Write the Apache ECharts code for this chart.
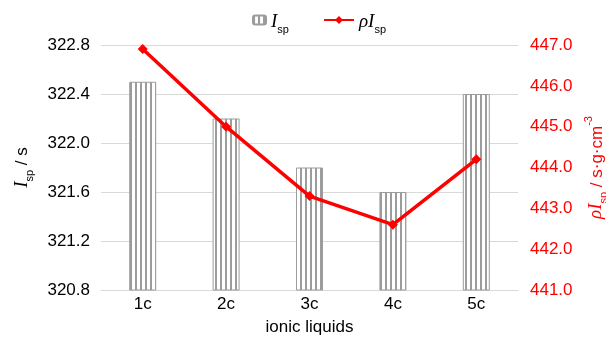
<!DOCTYPE html>
<html>
<head>
<meta charset="utf-8">
<script src="https://cdn.jsdelivr.net/npm/echarts@6/dist/echarts.min.js"></script>
<style>html,body{margin:0;padding:0;background:#fff}#c{width:606px;height:340px}</style>
</head>
<body>
<div id="c"></div>
<script>
const categories = ['1c','2c','3c','4c','5c'];
const ispValues = [322.5, 322.2, 321.8, 321.6, 322.4];
const rhoIspValues = [446.9, 445.0, 443.3, 442.6, 444.2];
const leftTicks = {min: 320.8, max: 322.8, interval: 0.4};
const rightTicks = {min: 441, max: 447, interval: 1};

const pc = document.createElement('canvas');
pc.width = 5; pc.height = 4;
const pctx = pc.getContext('2d');
pctx.fillStyle = '#ffffff'; pctx.fillRect(0,0,5,4);
pctx.fillStyle = '#9c9c9c'; pctx.fillRect(0,0,2,4);

const font = 'Liberation Sans, Arial, sans-serif';
const serif = 'Liberation Serif, Times New Roman, serif';
const subRich = (color) => ({
  i: {fontFamily: serif, fontStyle: 'italic', fontSize: 19, color: color, verticalAlign: 'bottom', lineHeight: 22},
  s: {fontFamily: font, fontSize: 11, color: color, verticalAlign: 'bottom', lineHeight: 22, padding: [0,0,-4,0]},
  r: {fontFamily: font, fontSize: 17, color: color, verticalAlign: 'bottom', lineHeight: 22},
  sup: {fontFamily: font, fontSize: 11, color: color, verticalAlign: 'top', lineHeight: 22, padding: [0,0,0,0]}
});

const chart = echarts.init(document.getElementById('c'), null, {renderer: 'canvas'});
chart.setOption({
  animation: false,
  backgroundColor: '#fff',
  grid: {left: 101, right: 88, top: 45, bottom: 50, containLabel: false, outerBoundsMode: 'none'},
  legend: [{
    data: ['Isp'], top: 7, left: 247, itemWidth: 13, itemHeight: 9, itemGap: 10,
    formatter: () => '{i|I}{s|sp}',
    textStyle: {rich: subRich('#000')}
  }, {
    data: ['rhoIsp'], top: 7, left: 318, itemWidth: 30, itemHeight: 10,
    formatter: () => '{i|ρI}{s|sp}',
    textStyle: {rich: subRich('#000')}
  }],
  xAxis: {
    type: 'category', data: categories,
    name: 'ionic liquids', nameLocation: 'middle', nameGap: 29,
    nameTextStyle: {fontFamily: font, fontSize: 17, color: '#000'},
    axisLine: {lineStyle: {color: '#d9d9d9', width: 1}},
    axisTick: {show: false},
    axisLabel: {fontFamily: font, fontSize: 17, color: '#000', margin: 6}
  },
  yAxis: [{
    type: 'value', min: leftTicks.min, max: leftTicks.max, interval: leftTicks.interval,
    name: '{i|I}{s|sp}{r| / s}', nameLocation: 'middle', nameGap: 70, nameRotate: 90,
    nameTextStyle: {rich: subRich('#000')},
    axisLine: {show: false}, axisTick: {show: false},
    axisLabel: {fontFamily: font, fontSize: 17, color: '#000', margin: 11, formatter: v => v.toFixed(1)},
    splitLine: {lineStyle: {color: '#d9d9d9', width: 1}}
  }, {
    type: 'value', min: rightTicks.min, max: rightTicks.max, interval: rightTicks.interval,
    position: 'right',
    name: '{i|ρI}{s|sp}{r| / s·g·cm}{sup|-3}', nameLocation: 'middle', nameGap: 60, nameRotate: 90,
    nameTextStyle: {rich: subRich('#ff0000')},
    axisLine: {show: false}, axisTick: {show: false},
    axisLabel: {fontFamily: font, fontSize: 17, color: '#ff0000', margin: 12, formatter: v => v.toFixed(1)},
    splitLine: {show: false}
  }],
  series: [{
    name: 'Isp', type: 'bar', data: ispValues, barWidth: 27, yAxisIndex: 0,
    itemStyle: {color: {image: pc, repeat: 'repeat'}, borderColor: '#9c9c9c', borderWidth: 1}
  }, {
    name: 'rhoIsp', type: 'line', data: rhoIspValues, yAxisIndex: 1,
    symbol: 'diamond', symbolSize: 10,
    lineStyle: {color: '#ff0000', width: 3.5},
    itemStyle: {color: '#ff0000'}
  }]
});
</script>
</body>
</html>
